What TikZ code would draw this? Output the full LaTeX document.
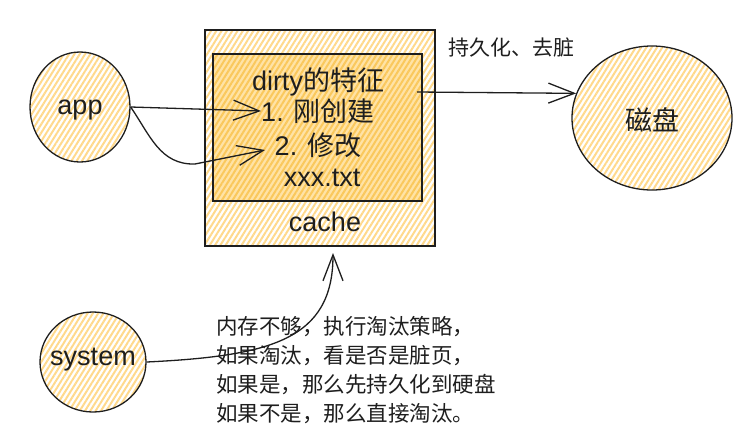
\documentclass[tikz,border=0pt]{standalone}
\usepackage{fontspec}
\setmainfont{Liberation Sans}
\newfontfamily\cjk{Noto Sans CJK SC}
\usetikzlibrary{shapes.geometric,arrows.meta,patterns.meta}
\definecolor{ink}{HTML}{1E1E1E}
\definecolor{hatch}{HTML}{FFD98C}
\definecolor{hatchdark}{HTML}{FAC85C}
\definecolor{innerfill}{HTML}{FFE3A6}
\begin{document}
\begin{tikzpicture}[x=1pt,y=-1pt,
  hatched/.style={pattern={Lines[angle=58,distance=4.5pt,line width=2pt]}, pattern color=hatch},
  hatcheddark/.style={preaction={fill=innerfill},pattern={Lines[angle=58,distance=4.5pt,line width=2pt]}, pattern color=hatchdark},
  bubble/.style={ellipse, draw=ink, line width=1.3pt, hatched, inner sep=0pt},
  boxshape/.style={rectangle, draw=ink, line width=1.3pt, inner sep=0pt},
  lbl/.style={inner sep=0pt, text=ink, font=\fontsize{27}{32}\selectfont},
  note/.style={inner sep=0pt, text=ink, align=left, font=\fontsize{21.5}{29}\selectfont\cjk},
  conn/.style={draw=ink, line width=1.3pt, -{Straight Barb[length=26pt,width=20pt,line width=1.3pt]}},
]
\useasboundingbox (0,0) rectangle (749,445);

% shapes
\node[boxshape, hatched, minimum width=230pt, minimum height=216pt] (cachebox) at (320,138) {};
\node[boxshape, hatcheddark, minimum width=209pt, minimum height=147pt] (dirtybox) at (317.5,127.5) {};
\node[bubble, minimum width=100pt, minimum height=110pt] (app) at (80,107) {};
\node[bubble, minimum width=106pt, minimum height=100pt] (sys) at (93,362) {};
\node[bubble, minimum width=160pt, minimum height=144pt] (disk) at (652,118) {};

% labels
\node[lbl] (appl) at (80,110) {app};
\node[lbl] (sysl) at (93,360) {system};
\node[lbl] (diskl) at (652,120) {\cjk 磁盘};
\node[lbl] (t0) at (318,82) {dirty{\cjk 的特征}};
\node[lbl] (t1) at (318,111) {1. {\cjk 刚创建}};
\node[lbl] (t2) at (318,145) {2. {\cjk 修改}};
\node[lbl] (t3) at (322,178) {xxx.txt};
\node[lbl] (cachel) at (325,222) {cache};
\node[inner sep=0pt, text=ink, font=\fontsize{21}{25}\selectfont\cjk] (persist) at (511,48) {持久化、去脏};
\node[note, anchor=west] (evict) at (216,370) {内存不够，执行淘汰策略，\\如果淘汰，看是否是脏页，\\如果是，那么先持久化到硬盘\\如果不是，那么直接淘汰。};

% connector ends
\coordinate (t2tip) at (265,150);
\coordinate (dstart) at (417,92);
\coordinate (cachein) at (333,253);

% connectors
\draw[conn] (app.east) -- (t1.west);
\draw[conn] (app.east) .. controls (150,135) and (160,165) .. (195,164) -- (t2tip);
\draw[conn] (dstart) -- (disk.162);
\draw[conn] (sys.east) .. controls (270,356) and (333,340) .. (cachein);
\end{tikzpicture}
\end{document}
